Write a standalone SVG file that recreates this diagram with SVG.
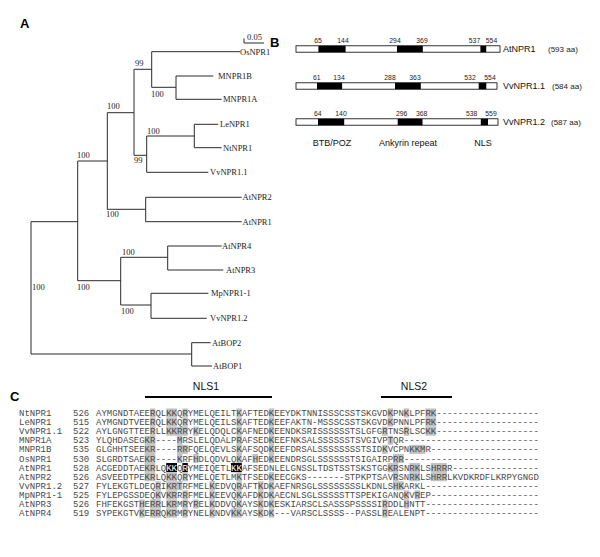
<svg xmlns="http://www.w3.org/2000/svg" width="600" height="557" viewBox="0 0 600 557">
<style>
.pl{font-family:"Liberation Sans",Arial,sans-serif;font-weight:bold;font-size:13px;fill:#000}
.tl{font-family:"Liberation Serif","Times New Roman",serif;font-size:8.5px;fill:#222}
.br{stroke:#2a2a2a;stroke-width:1;fill:none}
.bar{fill:#fff;stroke:#000;stroke-width:0.8}
.dom{fill:#000}
.num{font-family:"Liberation Sans",Arial,sans-serif;font-size:6.8px;fill:#222;text-anchor:middle}
.pn{font-family:"Liberation Sans",Arial,sans-serif;font-size:9px;fill:#111}
.aa{font-family:"Liberation Sans",Arial,sans-serif;font-size:8px;fill:#222}
.lab{font-family:"Liberation Sans",Arial,sans-serif;font-size:9px;fill:#111;text-anchor:middle}
.nls{font-family:"Liberation Sans",Arial,sans-serif;font-size:10.5px;fill:#111;text-anchor:middle}
.al{font-family:"Liberation Mono","Courier New",monospace;font-size:9px;fill:#4a4a4a}
.sh{fill:#c2c2c2}
.bk{fill:#000}
.w{fill:#fff}
</style>
<rect width="600" height="557" fill="#fff"/>

<!-- Panel A -->
<text class="pl" x="20" y="28">A</text>
<g id="scale">
<path class="br" d="M244,38.5 V43 H264"/>
<text class="tl" x="247" y="40">0.05</text>
</g>
<g id="tree-connectors">
<path class="br" d="M151.7,51.7 H240 M151.7,51.7 V87.3 M151.7,87.3 H176 M176,76 V99.3 M176,76 H213.3 M176,99.3 H221.7
M134,69.3 H151.7 M134,69.3 V155.3 M134,155.3 H146.7 M146.7,136 V172.3 M146.7,136 H194.3 M194.3,124.3 V147.7 M194.3,124.3 H218.3 M194.3,147.7 H221.7 M146.7,172.3 H208.3
M107.3,112.7 H134 M107.3,112.7 V209.3 M107.3,209.3 H145.7 M145.7,197.3 V221.7 M145.7,197.3 H241.7 M145.7,221.7 H241.7
M77.7,161 H107.3 M77.7,161 V280.7 M77.7,280.7 H120.7 M120.7,257.3 V305 M120.7,257.3 H167.7 M167.7,246 V270 M167.7,246 H221.7 M167.7,270 H223.3
M120.7,305 H151 M151,293.3 V318.3 M151,293.3 H208.3 M151,318.3 H206.7
M31,221.7 H77.7 M31,221.7 V354 M31,354 H191.7 M191.7,342.7 V366 M191.7,342.7 H210.7 M191.7,366 H212"/>
</g>
<g id="bootstrap">
<text class="tl" x="135" y="66">99</text>
<text class="tl" x="151" y="97">100</text>
<text class="tl" x="107" y="109">100</text>
<text class="tl" x="147" y="134">100</text>
<text class="tl" x="134" y="163">99</text>
<text class="tl" x="77" y="158">100</text>
<text class="tl" x="106" y="217">100</text>
<text class="tl" x="122" y="255">100</text>
<text class="tl" x="77" y="290">100</text>
<text class="tl" x="32" y="290">100</text>
<text class="tl" x="121" y="314">100</text>
</g>
<g id="leaf-OsNPR1"><text class="tl" x="240" y="54.7">OsNPR1</text></g>
<g id="leaf-MNPR1B"><text class="tl" x="218" y="79">MNPR1B</text></g>
<g id="leaf-MNPR1A"><text class="tl" x="223" y="102.3">MNPR1A</text></g>
<g id="leaf-LeNPR1"><text class="tl" x="220" y="127.3">LeNPR1</text></g>
<g id="leaf-NtNPR1"><text class="tl" x="223" y="150.7">NtNPR1</text></g>
<g id="leaf-VvNPR1.1"><text class="tl" x="210" y="175.3">VvNPR1.1</text></g>
<g id="leaf-AtNPR2"><text class="tl" x="242.5" y="200.3">AtNPR2</text></g>
<g id="leaf-AtNPR1"><text class="tl" x="242.5" y="224.7">AtNPR1</text></g>
<g id="leaf-AtNPR4"><text class="tl" x="222" y="249">AtNPR4</text></g>
<g id="leaf-AtNPR3"><text class="tl" x="226" y="273">AtNPR3</text></g>
<g id="leaf-MpNPR1-1"><text class="tl" x="211" y="296.3">MpNPR1-1</text></g>
<g id="leaf-VvNPR1.2"><text class="tl" x="210" y="321.3">VvNPR1.2</text></g>
<g id="leaf-AtBOP2"><text class="tl" x="212" y="345.7">AtBOP2</text></g>
<g id="leaf-AtBOP1"><text class="tl" x="213" y="369">AtBOP1</text></g>

<!-- Panel B -->
<text class="pl" x="270" y="47">B</text>
<g id="prot-AtNPR1">
<rect class="bar" x="296" y="45.8" width="204" height="6.4"/>
<rect class="dom" x="318.4" y="45.8" width="27.2" height="6.4"/>
<rect class="dom" x="397" y="45.8" width="25.8" height="6.4"/>
<rect class="dom" x="480.4" y="45.8" width="5.8" height="6.4"/>
<text class="num" x="318" y="42.5">65</text><text class="num" x="343" y="42.5">144</text>
<text class="num" x="395" y="42.5">294</text><text class="num" x="422" y="42.5">369</text>
<text class="num" x="474.5" y="42.5">537</text><text class="num" x="491.5" y="42.5">554</text>
<text class="pn" x="503" y="52">AtNPR1</text>
<text class="aa" x="548" y="52">(593 aa)</text>
</g>
<g id="prot-VvNPR1.1">
<rect class="bar" x="296" y="82.8" width="201" height="6.4"/>
<rect class="dom" x="317" y="82.8" width="25.1" height="6.4"/>
<rect class="dom" x="395" y="82.8" width="25.8" height="6.4"/>
<rect class="dom" x="478.7" y="82.8" width="7.6" height="6.4"/>
<text class="num" x="316.7" y="79.5">61</text><text class="num" x="339" y="79.5">134</text>
<text class="num" x="390" y="79.5">288</text><text class="num" x="415" y="79.5">363</text>
<text class="num" x="470" y="79.5">532</text><text class="num" x="490" y="79.5">554</text>
<text class="pn" x="503" y="89">VvNPR1.1</text>
<text class="aa" x="552" y="89">(584 aa)</text>
</g>
<g id="prot-VvNPR1.2">
<rect class="bar" x="296" y="118.8" width="202" height="6.4"/>
<rect class="dom" x="318" y="118.8" width="26.2" height="6.4"/>
<rect class="dom" x="397.7" y="118.8" width="24.8" height="6.4"/>
<rect class="dom" x="480.8" y="118.8" width="7.2" height="6.4"/>
<text class="num" x="317.7" y="115.5">64</text><text class="num" x="341" y="115.5">140</text>
<text class="num" x="401.7" y="115.5">296</text><text class="num" x="421.7" y="115.5">368</text>
<text class="num" x="471.7" y="115.5">538</text><text class="num" x="491" y="115.5">559</text>
<text class="pn" x="503" y="125">VvNPR1.2</text>
<text class="aa" x="551" y="125">(587 aa)</text>
</g>
<g id="domain-labels">
<text class="lab" x="332" y="146">BTB/POZ</text>
<text class="lab" x="408" y="146">Ankyrin repeat</text>
<text class="lab" x="483" y="146">NLS</text>
</g>

<!-- Panel C -->
<text class="pl" x="10" y="401">C</text>
<g id="nls-marks">
<text class="nls" x="206" y="390">NLS1</text>
<path d="M145,397 H272" stroke="#000" stroke-width="2"/>
<text class="nls" x="414" y="390">NLS2</text>
<path d="M381,397 H452" stroke="#000" stroke-width="2"/>
</g>

<g id="row-NtNPR1" transform="translate(0,413)">
<rect class="sh" x="150" y="-4.55" width="5.4" height="9.1"/><rect class="sh" x="166.2" y="-4.55" width="10.8" height="9.1"/><rect class="sh" x="182.4" y="-4.55" width="5.4" height="9.1"/><rect class="sh" x="236.4" y="-4.55" width="5.4" height="9.1"/><rect class="sh" x="268.8" y="-4.55" width="5.4" height="9.1"/><rect class="sh" x="387.6" y="-4.55" width="5.4" height="9.1"/><rect class="sh" x="403.8" y="-4.55" width="5.4" height="9.1"/><rect class="sh" x="425.4" y="-4.55" width="10.8" height="9.1"/>
<text class="al" x="19" y="3">NtNPR1</text><text class="al" x="73" y="3">526</text>
<text class="al" x="96" y="3">AYMGNDTAEERQLKKQRYMELQEILTKAFTEDKEEYDKTNNISSSCSSTSKGVDKPNKLPFRK-------------------</text>
</g>
<g id="row-LeNPR1" transform="translate(0,422.1)">
<rect class="sh" x="150" y="-4.55" width="5.4" height="9.1"/><rect class="sh" x="166.2" y="-4.55" width="10.8" height="9.1"/><rect class="sh" x="182.4" y="-4.55" width="5.4" height="9.1"/><rect class="sh" x="236.4" y="-4.55" width="5.4" height="9.1"/><rect class="sh" x="268.8" y="-4.55" width="5.4" height="9.1"/><rect class="sh" x="387.6" y="-4.55" width="5.4" height="9.1"/><rect class="sh" x="425.4" y="-4.55" width="10.8" height="9.1"/>
<text class="al" x="19" y="3">LeNPR1</text><text class="al" x="73" y="3">515</text>
<text class="al" x="96" y="3">AYMGNDTVEERQLKKQRYMELQEILSKAFTEDKEEFAKTN-MSSSCSSTSKGVDKPNNLPFRK-------------------</text>
</g>
<g id="row-VvNPR1.1" transform="translate(0,431.2)">
<rect class="sh" x="150" y="-4.55" width="5.4" height="9.1"/><rect class="sh" x="166.2" y="-4.55" width="21.6" height="9.1"/><rect class="sh" x="193.2" y="-4.55" width="5.4" height="9.1"/><rect class="sh" x="236.4" y="-4.55" width="5.4" height="9.1"/><rect class="sh" x="268.8" y="-4.55" width="5.4" height="9.1"/><rect class="sh" x="382.2" y="-4.55" width="5.4" height="9.1"/><rect class="sh" x="403.8" y="-4.55" width="5.4" height="9.1"/><rect class="sh" x="425.4" y="-4.55" width="10.8" height="9.1"/>
<text class="al" x="19" y="3">VvNPR1.1</text><text class="al" x="73" y="3">522</text>
<text class="al" x="96" y="3">AYLGNGTTEERLLKKRRYKELQDQLCKAFNEDKEENDKSRISSSSSSTSLGFGRTNSRLSCKK-------------------</text>
</g>
<g id="row-MNPR1A" transform="translate(0,440.3)">
<rect class="sh" x="144.6" y="-4.55" width="10.8" height="9.1"/><rect class="sh" x="177" y="-4.55" width="5.4" height="9.1"/><rect class="sh" x="236.4" y="-4.55" width="5.4" height="9.1"/><rect class="sh" x="268.8" y="-4.55" width="5.4" height="9.1"/><rect class="sh" x="387.6" y="-4.55" width="5.4" height="9.1"/>
<text class="al" x="19" y="3">MNPR1A</text><text class="al" x="73" y="3">523</text>
<text class="al" x="96" y="3">YLQHDASEGKR----MRSLELQDALPRAFSEDKEEFNKSALSSSSSSTSVGIVPTQR-------------------------</text>
</g>
<g id="row-MNPR1B" transform="translate(0,449.4)">
<rect class="sh" x="144.6" y="-4.55" width="10.8" height="9.1"/><rect class="sh" x="177" y="-4.55" width="10.8" height="9.1"/><rect class="sh" x="236.4" y="-4.55" width="5.4" height="9.1"/><rect class="sh" x="268.8" y="-4.55" width="5.4" height="9.1"/><rect class="sh" x="382.2" y="-4.55" width="5.4" height="9.1"/><rect class="sh" x="409.2" y="-4.55" width="16.2" height="9.1"/>
<text class="al" x="19" y="3">MNPR1B</text><text class="al" x="73" y="3">535</text>
<text class="al" x="96" y="3">GLGHHTSEEKR----RRFQELQEVLSKAFSQDKEEFDRSALSSSSSSSSTSIDKVCPNKKMR--------------------</text>
</g>
<g id="row-OsNPR1" transform="translate(0,458.5)">
<rect class="sh" x="144.6" y="-4.55" width="10.8" height="9.1"/><rect class="sh" x="177" y="-4.55" width="5.4" height="9.1"/><rect class="sh" x="193.2" y="-4.55" width="5.4" height="9.1"/><rect class="sh" x="236.4" y="-4.55" width="5.4" height="9.1"/><rect class="sh" x="252.6" y="-4.55" width="5.4" height="9.1"/><rect class="sh" x="268.8" y="-4.55" width="5.4" height="9.1"/><rect class="sh" x="393" y="-4.55" width="10.8" height="9.1"/>
<text class="al" x="19" y="3">OsNPR1</text><text class="al" x="73" y="3">530</text>
<text class="al" x="96" y="3">SLGRDTSAEKR----KRFHDLQDVLQKAFHEDKEENDRSGLSSSSSSTSIGAIRPRR-------------------------</text>
</g>
<g id="row-AtNPR1" transform="translate(0,467.6)">
<rect class="sh" x="144.6" y="-4.55" width="10.8" height="9.1"/><rect class="sh" x="387.6" y="-4.55" width="10.8" height="9.1"/><rect class="sh" x="409.2" y="-4.55" width="10.8" height="9.1"/><rect class="sh" x="430.8" y="-4.55" width="16.2" height="9.1"/>
<rect class="bk" x="166.2" y="-4.55" width="10.8" height="9.1"/><rect class="bk" x="182.4" y="-4.55" width="5.4" height="9.1"/><rect class="bk" x="231" y="-4.55" width="10.8" height="9.1"/>
<text class="al" x="19" y="3">AtNPR1</text><text class="al" x="73" y="3">528</text>
<text class="al" x="96" y="3">ACGEDDTAEKRLQ<tspan class="w">KK</tspan>Q<tspan class="w">R</tspan>YMEIQETL<tspan class="w">KK</tspan>AFSEDNLELGNSSLTDSTSSTSKSTGGKRSNRKLSHRRR----------------</text>
</g>
<g id="row-AtNPR2" transform="translate(0,476.7)">
<rect class="sh" x="144.6" y="-4.55" width="10.8" height="9.1"/><rect class="sh" x="166.2" y="-4.55" width="10.8" height="9.1"/><rect class="sh" x="182.4" y="-4.55" width="5.4" height="9.1"/><rect class="sh" x="236.4" y="-4.55" width="5.4" height="9.1"/><rect class="sh" x="268.8" y="-4.55" width="5.4" height="9.1"/><rect class="sh" x="393" y="-4.55" width="5.4" height="9.1"/><rect class="sh" x="409.2" y="-4.55" width="10.8" height="9.1"/><rect class="sh" x="430.8" y="-4.55" width="16.2" height="9.1"/>
<text class="al" x="19" y="3">AtNPR2</text><text class="al" x="73" y="3">526</text>
<text class="al" x="96" y="3">ASVEEDTPEKRLQKKQRYMELQETLMKTFSEDKEECGKS-------STPKPTSAVRSNRKLSHRRLKVDKRDFLKRPYGNGD</text>
</g>
<g id="row-VvNPR1.2" transform="translate(0,485.8)">
<rect class="sh" x="155.4" y="-4.55" width="5.4" height="9.1"/><rect class="sh" x="166.2" y="-4.55" width="16.2" height="9.1"/><rect class="sh" x="209.4" y="-4.55" width="5.4" height="9.1"/><rect class="sh" x="236.4" y="-4.55" width="5.4" height="9.1"/><rect class="sh" x="258" y="-4.55" width="5.4" height="9.1"/><rect class="sh" x="268.8" y="-4.55" width="5.4" height="9.1"/><rect class="sh" x="393" y="-4.55" width="10.8" height="9.1"/>
<text class="al" x="19" y="3">VvNPR1.2</text><text class="al" x="73" y="3">527</text>
<text class="al" x="96" y="3">FYLEKGTLDEQRIKRTRFMELKEDVQRAFTKDKAEFNRSGLSSSSSSSSLKDNLSHKARKL---------------------</text>
</g>
<g id="row-MpNPR1-1" transform="translate(0,494.9)">
<rect class="sh" x="155.4" y="-4.55" width="5.4" height="9.1"/><rect class="sh" x="166.2" y="-4.55" width="10.8" height="9.1"/><rect class="sh" x="182.4" y="-4.55" width="5.4" height="9.1"/><rect class="sh" x="209.4" y="-4.55" width="5.4" height="9.1"/><rect class="sh" x="236.4" y="-4.55" width="5.4" height="9.1"/><rect class="sh" x="258" y="-4.55" width="5.4" height="9.1"/><rect class="sh" x="268.8" y="-4.55" width="5.4" height="9.1"/><rect class="sh" x="403.8" y="-4.55" width="5.4" height="9.1"/><rect class="sh" x="414.6" y="-4.55" width="5.4" height="9.1"/>
<text class="al" x="19" y="3">MpNPR1-1</text><text class="al" x="73" y="3">525</text>
<text class="al" x="96" y="3">FYLEPGSSDEQKVKRRRFMELKEEVQKAFDKDKAECNLSGLSSSSSTTSPEKIGANQKVREP--------------------</text>
</g>
<g id="row-AtNPR3" transform="translate(0,504)">
<rect class="sh" x="139.2" y="-4.55" width="5.4" height="9.1"/><rect class="sh" x="150" y="-4.55" width="10.8" height="9.1"/><rect class="sh" x="166.2" y="-4.55" width="10.8" height="9.1"/><rect class="sh" x="182.4" y="-4.55" width="5.4" height="9.1"/><rect class="sh" x="193.2" y="-4.55" width="5.4" height="9.1"/><rect class="sh" x="209.4" y="-4.55" width="5.4" height="9.1"/><rect class="sh" x="236.4" y="-4.55" width="5.4" height="9.1"/><rect class="sh" x="258" y="-4.55" width="5.4" height="9.1"/><rect class="sh" x="268.8" y="-4.55" width="5.4" height="9.1"/><rect class="sh" x="382.2" y="-4.55" width="5.4" height="9.1"/><rect class="sh" x="403.8" y="-4.55" width="5.4" height="9.1"/>
<text class="al" x="19" y="3">AtNPR3</text><text class="al" x="73" y="3">526</text>
<text class="al" x="96" y="3">FHFEKGSTHERRLKRMRYRELKDDVQKAYSKDKESKIARSCLSASSSPSSSSIRDDLHNTT---------------------</text>
</g>
<g id="row-AtNPR4" transform="translate(0,513.1)">
<rect class="sh" x="139.2" y="-4.55" width="5.4" height="9.1"/><rect class="sh" x="150" y="-4.55" width="10.8" height="9.1"/><rect class="sh" x="166.2" y="-4.55" width="10.8" height="9.1"/><rect class="sh" x="182.4" y="-4.55" width="5.4" height="9.1"/><rect class="sh" x="209.4" y="-4.55" width="5.4" height="9.1"/><rect class="sh" x="231" y="-4.55" width="10.8" height="9.1"/><rect class="sh" x="258" y="-4.55" width="5.4" height="9.1"/><rect class="sh" x="268.8" y="-4.55" width="5.4" height="9.1"/><rect class="sh" x="382.2" y="-4.55" width="5.4" height="9.1"/>
<text class="al" x="19" y="3">AtNPR4</text><text class="al" x="73" y="3">519</text>
<text class="al" x="96" y="3">SYPEKGTVKERRQKRMRYNELKNDVKKAYSKDK---VARSCLSSSS--PASSLREALENPT---------------------</text>
</g>
</svg>
